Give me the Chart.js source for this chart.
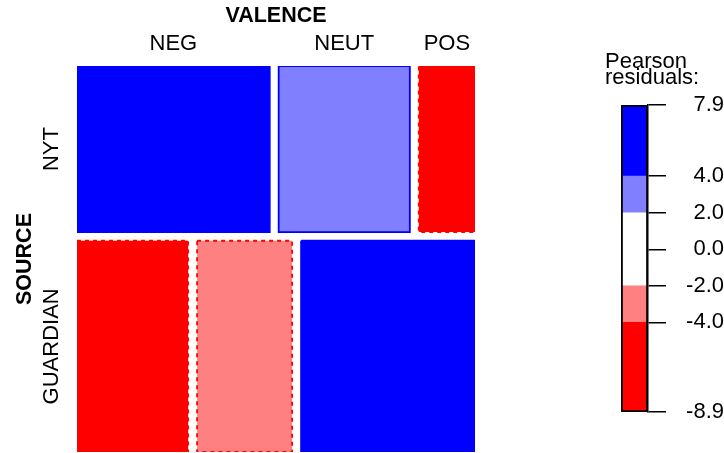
<!DOCTYPE html>
<html>
<head>
<meta charset="utf-8">
<script src="https://cdn.jsdelivr.net/npm/chart.js@4.4.0/dist/chart.umd.min.js"></script>
<style>
  body { margin: 0; background: #fff; }
  #wrap { position: relative; width: 724px; height: 453px; }
  #mosaic { position: absolute; left: 0; top: 0; }
  #legend { position: absolute; left: 605px; top: 0; }
</style>
</head>
<body>
<div id="wrap">
  <canvas id="mosaic" width="724" height="453"></canvas>
  <canvas id="legend" width="119" height="453"></canvas>
</div>
<script>
const sources = ['NYT', 'GUARDIAN'];
const valences = ['NEG', 'NEUT', 'POS'];
const nyt = [432, 294, 126];
const guardian = [317, 271, 496];

// residual shading legend
const legendBreaks = [-8.9, -4, -2, 2, 4, 7.9];
const legendColors = ['#ff0000', '#ff8080', '#ffffff', '#8080ff', '#0000ff'];
const legendTicks = [-8.9, -4, -2, 0, 2, 4, 7.9];

Chart.defaults.font.family = "'Liberation Sans', Arial, sans-serif";
Chart.defaults.color = '#000';

const gap = 0.0225;
const counts = [nyt, guardian];
const rowTot = counts.map(r => r.reduce((a, b) => a + b, 0));
const grand = rowTot[0] + rowTot[1];
const colTot = valences.map((v, j) => nyt[j] + guardian[j]);

function shade(r) {
  if (r > 4) return { fill: '#0000ff', border: '#0000ff', dash: [] };
  if (r > 2) return { fill: '#8080ff', border: '#0000ff', dash: [] };
  if (r < -4) return { fill: '#ff0000', border: '#ff0000', dash: [4, 4] };
  if (r < -2) return { fill: '#ff8080', border: '#ff0000', dash: [4, 4] };
  return { fill: '#ffffff', border: '#999999', dash: [] };
}

// build mosaic tiles as closed polygons
const cells = [];
const rowCenters = [];
const colCenters = [];
let y0 = 0;
counts.forEach((row, i) => {
  const h = rowTot[i] / grand * (1 - gap * (counts.length - 1));
  rowCenters.push(y0 + h / 2);
  let x0 = 0;
  row.forEach((n, j) => {
    const w = n / rowTot[i] * (1 - gap * (row.length - 1));
    if (i === 0) colCenters.push(x0 + w / 2);
    const exp = rowTot[i] * colTot[j] / grand;
    const s = shade((n - exp) / Math.sqrt(exp));
    cells.push({
      label: sources[i] + ' / ' + valences[j],
      data: [{x: x0, y: y0}, {x: x0 + w, y: y0}, {x: x0 + w, y: y0 + h}, {x: x0, y: y0 + h}, {x: x0, y: y0}],
      showLine: true,
      fill: 'shape',
      backgroundColor: s.fill,
      borderColor: s.border,
      borderDash: s.dash,
      borderWidth: 1.8,
      borderJoinStyle: 'miter',
      pointRadius: 0,
      tension: 0
    });
    x0 += w + gap;
  });
  y0 += h + gap;
});

new Chart(document.getElementById('mosaic'), {
  type: 'scatter',
  data: { datasets: cells },
  options: {
    responsive: false,
    animation: false,
    layout: { padding: { left: 0, top: 0, right: 249, bottom: 1 } },
    plugins: { legend: { display: false }, tooltip: { enabled: false } },
    scales: {
      x: {
        type: 'linear', position: 'top', min: 0, max: 1,
        afterBuildTicks: a => { a.ticks = colCenters.map(v => ({ value: v })); },
        afterFit: a => { a.height = 66; },
        grid: { display: false, drawTicks: false },
        border: { display: false },
        ticks: { padding: 8.5, font: { size: 22 }, maxRotation: 0, autoSkip: false, callback: (v, i) => valences[i] },
        title: { display: true, text: 'VALENCE', font: { size: 21.5, weight: 'bold' }, padding: { top: 3, bottom: 0 } }
      },
      y: {
        type: 'linear', min: 0, max: 1, reverse: true,
        afterBuildTicks: a => { a.ticks = rowCenters.map(v => ({ value: v })); },
        afterFit: a => { a.width = 77; },
        grid: { display: false, drawTicks: false },
        border: { display: false },
        ticks: { minRotation: 90, maxRotation: 90, crossAlign: 'center', padding: -33, font: { size: 22 }, autoSkip: false, callback: (v, i) => sources[i] },
        title: { display: true, text: 'SOURCE', font: { size: 21.5, weight: 'bold' }, padding: { top: 12, bottom: 0 } }
      }
    }
  }
});

// legend colour bar
const legendSets = legendColors.map((c, k) => ({
  data: [[legendBreaks[k], legendBreaks[k + 1]]],
  backgroundColor: c,
  borderWidth: 0,
  grouped: false,
  barPercentage: 1,
  categoryPercentage: 1
}));
// black frame, drawn on top
legendSets.push({
  data: [[legendBreaks[0], legendBreaks[legendBreaks.length - 1]]],
  backgroundColor: 'rgba(0,0,0,0)',
  borderColor: '#000',
  borderWidth: 1.5,
  borderSkipped: false,
  grouped: false,
  order: -1,
  barPercentage: 1,
  categoryPercentage: 1
});

new Chart(document.getElementById('legend'), {
  type: 'bar',
  data: { labels: [''], datasets: legendSets },
  options: {
    responsive: false,
    animation: false,
    layout: { padding: { top: 0, bottom: 41, left: 0, right: 0 } },
    plugins: {
      legend: { display: false },
      tooltip: { enabled: false },
      title: {
        display: true, text: ['Pearson', 'residuals:'], align: 'start',
        font: { size: 22, weight: 'normal', lineHeight: 0.77 },
        padding: { top: 53, bottom: 18 }
      }
    },
    scales: {
      x: { display: false },
      y: {
        position: 'right', min: legendBreaks[0], max: legendBreaks[legendBreaks.length - 1],
        afterBuildTicks: a => { a.ticks = legendTicks.map(v => ({ value: v })); },
        afterFit: a => { a.width = 76; },
        grid: { drawOnChartArea: false, tickLength: 18, color: '#000', lineWidth: 1.5 },
        border: { display: true, color: '#000', width: 1.5 },
        ticks: { padding: 16, font: { size: 22 }, crossAlign: 'far', autoSkip: false, callback: v => v.toFixed(1) }
      },
      pad: {
        type: 'linear', position: 'left', display: true,
        afterFit: a => { a.width = 16; },
        ticks: { display: false }, grid: { display: false }, border: { display: false }
      }
    }
  }
});
</script>
</body>
</html>
